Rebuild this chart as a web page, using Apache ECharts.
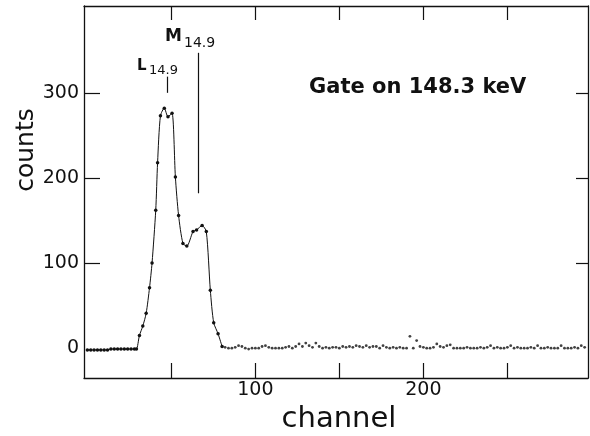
<!DOCTYPE html>
<html><head><meta charset="utf-8">
<script src="https://cdn.jsdelivr.net/npm/echarts@6/dist/echarts.min.js"></script>
<style>html,body{margin:0;padding:0;background:#fff}#c{width:590px;height:436px}</style>
</head><body><div id="c"></div>
<script>
// Peak region (connected points), channel and counts
const peakChannel = [0,2,4,6,8,10,12,14,16,18,20,22,24,26,28,29.2,31,33,35,37,38.5,40.7,41.8,43.5,45.8,48,50.4,52.4,54.3,56.9,59.2,62.9,65,68.3,70.8,73.2,75.2,77.8,80.2];
const peakCounts  = [-2,-2,-2,-2,-2,-2,-2,-1,-1,-1,-1,-1,-1,-1,-1,-1,15,26,41,71,100,162,218,273,282,272,276,201,156,123,120,137,139,144,137,68,30,17,2];
// Flat background after the peak (dots only)
const bgChannel = [82,84,86,88,90,92,94,96,98,100,102,104,106,108,110,112,114,116,118,120,122,124,126,128,130,132,134,136,138,140,142,144,146,148,150,152,154,156,158,160,162,164,166,168,170,172,174,176,178,180,182,184,186,188,190,192,194,196,198,200,202,204,206,208,210,212,214,216,218,220,222,224,226,228,230,232,234,236,238,240,242,244,246,248,250,252,254,256,258,260,262,264,266,268,270,272,274,276,278,280,282,284,286,288,290,292,294,296];
const bgCounts  = [1,0,0,1,3,2,0,-1,0,0,0,2,3,1,0,0,0,0,1,2,0,2,5,2,6,3,1,6,2,0,1,0,1,1,0,2,1,2,1,3,2,1,3,1,2,2,0,3,1,0,1,0,1,0,0,14,0,9,2,1,0,0,1,5,2,1,3,4,0,0,0,0,1,0,0,0,1,0,1,3,0,1,0,0,1,3,0,1,0,0,0,1,0,3,0,0,1,0,0,0,3,0,0,0,1,0,3,1];
const xTickValues = [50,100,150,200,250];
const xLabelValues = [100,200];
const yTickValues = [100,200,300];
const yLabelValues = [0,100,200,300];

const FONT = '"DejaVu Sans", sans-serif';
const chart = echarts.init(document.getElementById('c'), null, {renderer:'canvas'});
const axisLine = {show:true, onZero:false, lineStyle:{color:'#111', width:1.3}};
const xBase = {type:'value', min:-2, max:298, splitLine:{show:false}, axisLine};
const yBase = {type:'value', min:-35, max:402, splitLine:{show:false}, axisLine};
chart.setOption({
  animation:false,
  backgroundColor:'#fff',
  grid:{left:84, right:2, top:6, bottom:58},
  xAxis:[
    Object.assign({}, xBase, {position:'bottom',
      axisTick:{inside:true, length:15, customValues:xTickValues, lineStyle:{color:'#111', width:1.2}},
      axisLabel:{customValues:xLabelValues, margin:3, color:'#111', fontSize:19, fontFamily:FONT}}),
    Object.assign({}, xBase, {position:'top',
      axisTick:{inside:true, length:14, customValues:xTickValues, lineStyle:{color:'#111', width:1.2}},
      axisLabel:{show:false}})
  ],
  yAxis:[
    Object.assign({}, yBase, {position:'left',
      axisTick:{inside:true, length:16, customValues:yTickValues, lineStyle:{color:'#111', width:1.2}},
      axisLabel:{customValues:yLabelValues, margin:5, color:'#111', fontSize:19, fontFamily:FONT}}),
    Object.assign({}, yBase, {position:'right',
      axisTick:{inside:true, length:12, customValues:yTickValues, lineStyle:{color:'#111', width:1.2}},
      axisLabel:{show:false}})
  ],
  series:[
    {type:'line', xAxisIndex:0, yAxisIndex:0,
     data: peakChannel.map((c,i)=>[c, peakCounts[i]]),
     smooth:0.25, symbol:'circle', symbolSize:3.5,
     itemStyle:{color:'#111'}, lineStyle:{color:'#111', width:1},
     markLine:{silent:true, symbol:'none', label:{show:false},
       lineStyle:{color:'#111', width:1.2, type:'solid'},
       data:[
         [{coord:[47.8,300]},{coord:[47.8,319]}],
         [{coord:[65.9,182]},{coord:[65.9,347]}]
       ]}
    },
    {type:'scatter', xAxisIndex:0, yAxisIndex:0,
     data: bgChannel.map((c,i)=>[c, bgCounts[i]]),
     symbol:'circle', symbolSize:2.8, itemStyle:{color:'#111'}}
  ],
  graphic:[
    {type:'text', x:26, y:150, rotation:Math.PI/2,
     style:{text:'counts', font:'25px '+FONT, fill:'#111', textAlign:'center', textVerticalAlign:'middle'}},
    {type:'text', x:339, y:419,
     style:{text:'channel', font:'29px '+FONT, fill:'#111', textAlign:'center', textVerticalAlign:'middle'}},
    {type:'text', x:309, y:88,
     style:{text:'Gate on 148.3 keV', font:'bold 21px '+FONT, fill:'#111', textAlign:'left', textVerticalAlign:'middle'}},
    {type:'text', x:137, y:66,
     style:{text:'L', font:'bold 15px '+FONT, fill:'#111', textAlign:'left', textVerticalAlign:'middle'}},
    {type:'text', x:149, y:70.5,
     style:{text:'14.9', font:'13px '+FONT, fill:'#111', textAlign:'left', textVerticalAlign:'middle'}},
    {type:'text', x:165, y:37,
     style:{text:'M', font:'bold 17px '+FONT, fill:'#111', textAlign:'left', textVerticalAlign:'middle'}},
    {type:'text', x:184, y:43,
     style:{text:'14.9', font:'14px '+FONT, fill:'#111', textAlign:'left', textVerticalAlign:'middle'}}
  ]
});
</script></body></html>
